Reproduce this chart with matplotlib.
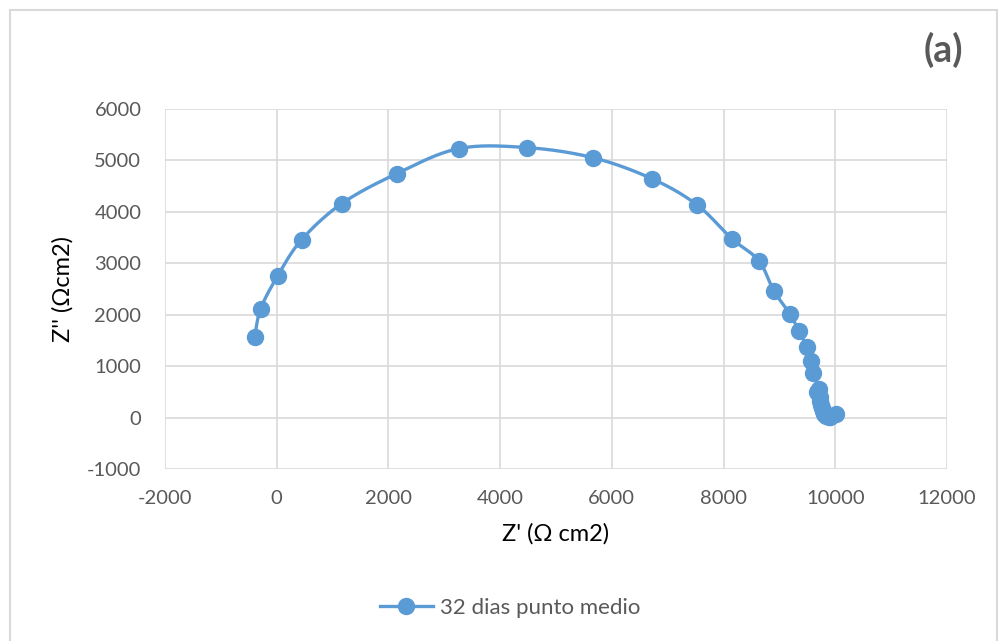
import numpy as np
import matplotlib
matplotlib.use("Agg")
import matplotlib.pyplot as plt
from matplotlib.lines import Line2D
from matplotlib.patches import Rectangle

plt.rcParams['font.family'] = ['Lato', 'DejaVu Sans']
plt.rcParams['axes.unicode_minus'] = False

# Nyquist data: 32 dias punto medio
z_real = [-394, -286, 20, 448, 1164, 2150, 3258, 4475, 5657, 6713, 7519, 8145,
          8629, 8897, 9184, 9345, 9488, 9560, 9600, 9700, 9680, 9720, 9735,
          9745, 9760, 9780, 9800, 9840, 9900, 10007, 9880]
z_imag = [1575, 2119, 2761, 3461, 4161, 4744, 5230, 5250, 5055, 4647, 4141, 3480,
          3053, 2469, 2022, 1692, 1380, 1108, 875, 564, 490, 400, 320,
          250, 180, 120, 70, 40, 20, 78, 15]
series_label = "32 dias punto medio"
x_ticks = [-2000, 0, 2000, 4000, 6000, 8000, 10000, 12000]
y_ticks = [-1000, 0, 1000, 2000, 3000, 4000, 5000, 6000]

BLUE = "#5B9BD5"
GRID = "#D9D9D9"
TICK = "#595959"


def smooth_path(xs, ys, n=20):
    """Catmull-Rom spline through the points (smoothed line style)."""
    p = np.column_stack([xs, ys]).astype(float)
    p = np.vstack([p[0], p, p[-1]])
    out = []
    t = np.linspace(0, 1, n, endpoint=False)
    for i in range(1, len(p) - 2):
        p0, p1, p2, p3 = p[i - 1], p[i], p[i + 1], p[i + 2]
        t2, t3 = t * t, t * t * t
        seg = 0.5 * ((2 * p1)[None, :] + (-p0 + p2)[None, :] * t[:, None]
                     + (2 * p0 - 5 * p1 + 4 * p2 - p3)[None, :] * t2[:, None]
                     + (-p0 + 3 * p1 - 3 * p2 + p3)[None, :] * t3[:, None])
        out.append(seg)
    out.append(p[-2][None, :])
    s = np.vstack(out)
    return s[:, 0], s[:, 1]


fig = plt.figure(figsize=(9.98, 6.41), dpi=100)
ax = fig.add_axes([165 / 998, 1 - 469 / 641, 782 / 998, 360 / 641])

sx, sy = smooth_path(z_real, z_imag)
ax.plot(sx, sy, color=BLUE, lw=2.4, zorder=3, solid_capstyle='round')
ax.plot(z_real, z_imag, 'o', color=BLUE, ms=11.5, zorder=4)

ax.set_xlim(-2000, 12000)
ax.set_ylim(-1000, 6000)
ax.set_xticks(x_ticks)
ax.set_yticks(y_ticks)
ax.grid(True, color=GRID, lw=1.2)
ax.set_axisbelow(True)
for sp in ax.spines.values():
    sp.set_visible(False)
ax.tick_params(length=0, labelsize=14.5, labelcolor=TICK)
ax.tick_params(axis='y', pad=17)
ax.tick_params(axis='x', pad=15)

ax.set_xlabel("Z' (Ω cm2)", fontsize=17, color='black', labelpad=12)
ax.set_ylabel("Z'' (Ωcm2)", fontsize=17, color='black', labelpad=10)

fig.text(943 / 998, 1 - 50 / 641, "(a)", fontsize=27, fontweight='bold',
         color=TICK, ha='center', va='center')

handle = Line2D([], [], color=BLUE, lw=2.4, marker='o', ms=11.5)
fig.legend([handle], [series_label], loc='center',
           bbox_to_anchor=(510 / 998, 1 - 608 / 641), frameon=False,
           fontsize=16, labelcolor=TICK, handlelength=2.4, handletextpad=0.3)

# chart area frame
fig.patches.append(Rectangle((10 / 998, -0.05), 987 / 998, 1 - 10 / 641 + 0.05,
                             transform=fig.transFigure, fill=False,
                             edgecolor="#D9D9D9", lw=1.5, zorder=0))

fig.savefig("out.png", dpi=100)
